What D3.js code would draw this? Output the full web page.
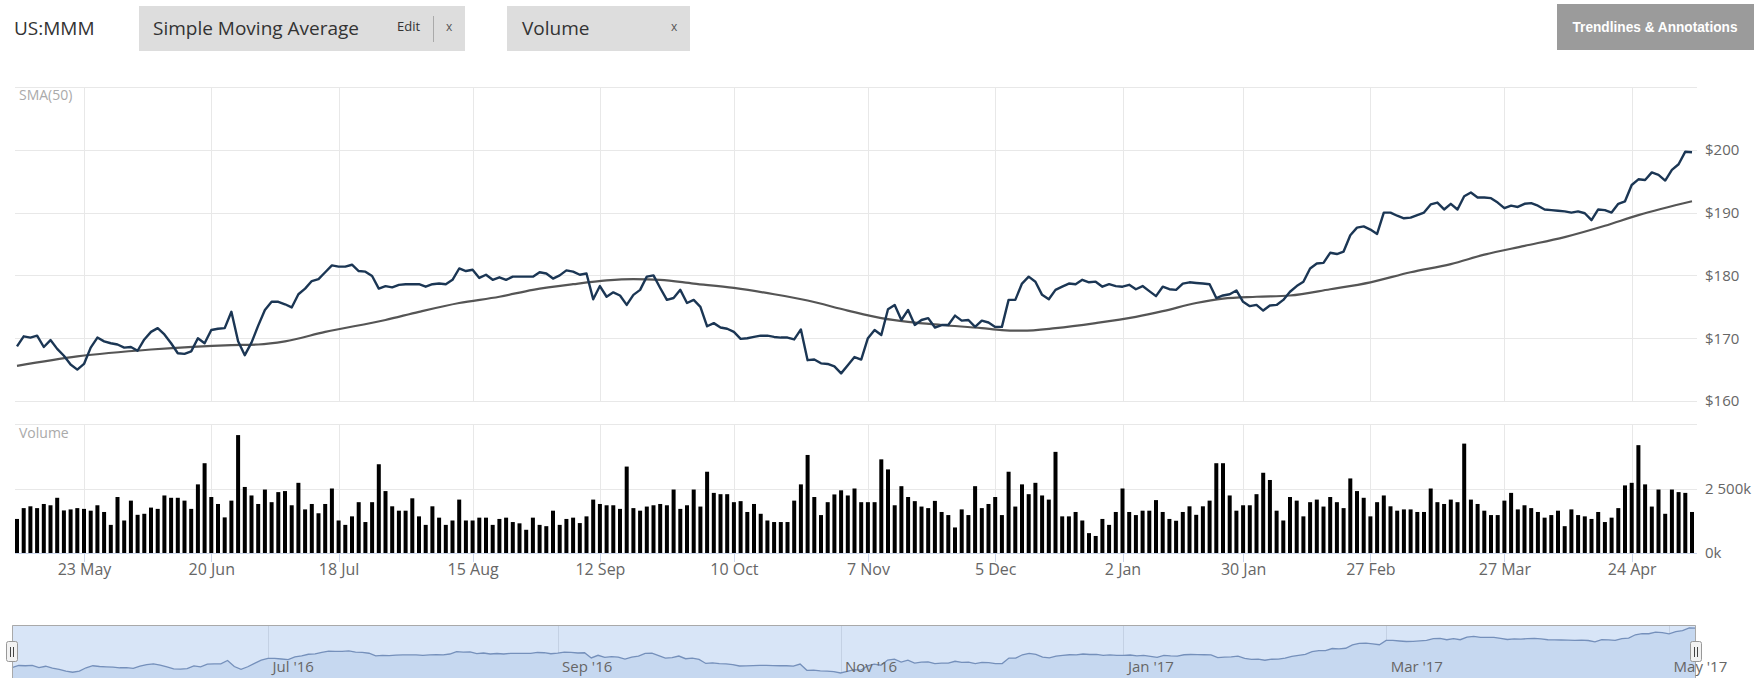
<!DOCTYPE html>
<html><head><meta charset="utf-8">
<script src="https://cdn.jsdelivr.net/npm/d3@7"></script>
<style>
html,body{margin:0;padding:0;background:#fff;}
svg{display:block;font-family:"Open Sans",sans-serif;}
.grid line{stroke:#e8e8e8;stroke-width:1;shape-rendering:crispEdges;}
.grid path{display:none;}
.ax path{display:none;}
.ax line{stroke:#ccd6eb;shape-rendering:crispEdges;}
.ax text{fill:#666;}
</style></head><body>
<svg id="chart" width="1762" height="678"></svg>
<script>
// ---------- DATA ----------
const symbol = "US:MMM";
const firstTradingDay = "2016-05-09";
const marketHolidays = ["2016-05-30","2016-07-04","2016-09-05","2016-11-24","2016-12-26","2017-01-02","2017-01-16","2017-02-20","2017-04-14"];

// daily close, US$ (one value per trading day)
const closePrice = [
168.7,170.3,170.1,170.4,168.6,169.7,168.3,167.2,165.8,165.0,
165.9,168.5,170.1,169.5,169.2,169.0,168.5,168.6,168.0,169.8,
171.0,171.6,170.6,169.2,167.6,167.5,167.9,170.0,169.2,171.3,
171.5,171.6,174.2,169.5,167.3,169.3,172.0,174.5,175.8,175.8,
175.4,174.9,177.0,177.9,179.1,179.4,180.5,181.6,181.4,181.4,
181.7,180.7,180.6,179.9,177.9,178.3,178.1,178.5,178.6,178.6,
178.6,178.2,178.6,178.7,178.6,179.3,181.1,180.7,180.9,179.6,
180.1,179.3,179.7,179.3,179.8,179.8,179.8,179.8,180.5,180.3,
179.5,180.0,180.8,180.6,180.1,180.3,176.2,178.3,176.6,177.3,
176.8,175.3,176.9,177.7,179.8,180.0,178.0,176.1,176.4,177.7,
175.6,176.1,175.0,171.9,172.4,171.7,171.5,171.0,169.9,170.0,
170.2,170.4,170.4,170.2,170.1,170.1,169.8,171.4,166.5,166.6,
166.0,165.9,165.5,164.4,165.7,167.0,166.6,170.0,171.3,170.5,
174.6,175.3,172.9,174.5,172.1,172.9,173.2,171.7,172.1,172.1,
173.6,172.8,172.9,171.8,172.8,172.5,171.8,171.8,176.1,176.1,
178.7,179.8,179.0,176.9,176.2,177.7,178.2,178.7,178.6,179.3,
178.9,179.0,178.2,178.6,178.3,178.2,178.5,177.8,178.3,177.5,
176.7,178.2,177.8,177.7,178.7,178.9,178.8,178.7,178.6,176.4,
176.8,177.0,177.6,175.8,175.1,175.3,174.4,175.2,175.3,176.1,
177.4,178.3,179.0,181.1,181.9,182.0,183.6,183.4,183.8,186.4,
187.6,187.8,187.3,186.6,190.0,190.0,189.5,189.1,189.2,189.6,
190.0,191.3,191.6,190.5,191.4,190.5,192.6,193.2,192.4,192.4,
192.3,191.6,190.7,191.1,190.9,191.4,191.5,191.1,190.5,190.4,
190.3,190.2,190.0,190.2,189.9,188.8,190.5,190.4,190.0,191.4,
191.8,194.4,195.3,195.2,196.4,196.0,195.1,196.8,197.7,199.7,199.6];

// daily volume, millions of shares
const volumeMillions = [
1.32,1.74,1.81,1.74,1.90,1.85,2.14,1.65,1.69,1.74,
1.71,1.64,1.85,1.59,1.09,2.17,1.26,2.03,1.48,1.52,
1.76,1.71,2.23,2.14,2.14,2.03,1.71,2.66,3.48,2.17,
1.90,1.38,2.03,4.57,2.56,2.23,1.90,2.46,1.97,2.36,
2.40,1.85,2.72,1.69,1.90,1.54,1.90,2.50,1.26,1.09,
1.42,1.97,1.20,1.97,3.44,2.40,1.81,1.64,1.64,2.12,
1.42,1.09,1.81,1.37,1.09,1.26,2.07,1.26,1.26,1.37,
1.37,1.09,1.32,1.37,1.20,1.15,0.90,1.37,1.09,1.04,
1.64,1.09,1.32,1.37,1.16,1.42,2.07,1.90,1.85,1.85,
1.71,3.35,1.74,1.64,1.80,1.85,1.90,1.85,2.46,1.71,
1.85,2.46,1.80,3.15,2.33,2.28,2.28,1.97,2.01,1.59,
1.90,1.52,1.26,1.20,1.20,1.20,2.03,2.66,3.80,2.17,
1.47,1.97,2.27,2.43,2.23,2.50,1.97,1.97,1.97,3.63,
3.24,1.85,2.59,2.17,2.01,1.80,1.74,2.02,1.59,1.47,
0.99,1.69,1.47,2.59,1.74,1.90,2.17,1.47,3.15,1.80,
2.66,2.28,2.72,2.23,2.07,3.92,1.42,1.42,1.59,1.26,
0.77,0.66,1.32,1.09,1.59,2.50,1.59,1.47,1.64,1.64,
2.05,1.59,1.32,1.25,1.59,1.81,1.48,1.81,2.03,3.48,
3.48,2.23,1.64,1.85,1.85,2.28,3.11,2.83,1.64,1.26,
2.17,2.03,1.42,1.97,2.07,1.80,2.17,1.97,1.74,2.89,
2.40,2.14,1.42,1.97,2.23,1.81,1.64,1.69,1.69,1.59,
1.59,2.50,1.97,1.90,2.07,1.97,4.24,2.07,1.90,1.64,
1.47,1.47,2.03,2.33,1.69,1.85,1.74,1.59,1.37,1.47,
1.64,1.04,1.69,1.47,1.42,1.32,1.59,1.20,1.37,1.74,
2.62,2.72,4.18,2.66,1.80,2.46,1.52,2.46,2.36,2.33,1.59];

// SMA(50): trading-day number and value
const smaDay   = [0,9,20,32,36,40,46,55,60,66,72,77,83,88,92,96,101,107,113,118,124,129,133,138,144,147,150,155,161,167,171,176,180,185,190,196,202,208,214,219,225,231,237,242,250];
const smaValue = [165.6,167.1,168.2,168.9,169.0,169.5,171.0,172.9,174.2,175.6,176.6,177.7,178.6,179.2,179.4,179.3,178.7,178.0,177.0,176.0,174.4,173.2,172.6,172.1,171.6,171.3,171.2,171.6,172.4,173.4,174.3,175.6,176.3,176.6,176.8,177.8,178.9,180.5,181.8,183.3,184.7,186.1,187.9,189.6,191.8];

const priceGridValues = [160,170,180,190,200,210];
const priceTickValues = [160,170,180,190,200];
const volumeGridValues = [0,2.5,5];
const volumeTickValues = [0,2.5];
const weekTickDates  = ["2016-05-23","2016-06-20","2016-07-18","2016-08-15","2016-09-12","2016-10-10","2016-11-07","2016-12-05","2017-01-02","2017-01-30","2017-02-27","2017-03-27","2017-04-24"];
const weekTickLabels = ["23 May","20 Jun","18 Jul","15 Aug","12 Sep","10 Oct","7 Nov","5 Dec","2 Jan","30 Jan","27 Feb","27 Mar","24 Apr"];
const navTickDates  = ["2016-07-01","2016-09-01","2016-11-01","2017-01-01","2017-03-01","2017-05-01"];
const navTickLabels = ["Jul '16","Sep '16","Nov '16","Jan '17","Mar '17","May '17"];

// ---------- TRADING CALENDAR (ordinal axis) ----------
const tradingDays = [];
{
  let t = Date.parse(firstTradingDay + "T00:00:00Z");
  while (tradingDays.length < closePrice.length) {
    const d = new Date(t), s = d.toISOString().slice(0,10), w = d.getUTCDay();
    if (w !== 0 && w !== 6 && !marketHolidays.includes(s)) tradingDays.push(s);
    t += 86400000;
  }
}
const dayIndex = s => tradingDays.findIndex(d => d >= s);
const weekTickIdx = weekTickDates.map(dayIndex);
const navTickIdx = navTickDates.map(dayIndex);
const N = closePrice.length;

// ---------- SCALES ----------
const svg = d3.select("#chart");
const x = d3.scaleLinear().domain([0, N-1]).range([17, 1692]);
const yPrice = d3.scaleLinear().domain([160, 210]).range([401, 87]);
const yVol = d3.scaleLinear().domain([0, 5]).range([553, 424]);
const xNav = d3.scaleLinear().domain([0, N-1]).range([12, 1696]);
const yNav = d3.scaleLinear().domain(d3.extent(closePrice)).range([673, 628]);

// ---------- HEADER ----------
svg.append("text").attr("x",14).attr("y",35).attr("font-size",19).attr("fill","#333").text(symbol);
svg.append("rect").attr("x",139).attr("y",6).attr("width",326).attr("height",45).attr("fill","#dddddd");
svg.append("text").attr("x",153).attr("y",35).attr("font-size",19).attr("fill","#333").text("Simple Moving Average");
svg.append("text").attr("x",397).attr("y",31).attr("font-size",13).attr("fill","#333").text("Edit");
svg.append("line").attr("x1",433.5).attr("x2",433.5).attr("y1",16).attr("y2",42).attr("stroke","#aaa");
svg.append("text").attr("x",446).attr("y",31).attr("font-size",12).attr("fill","#555").text("x");
svg.append("rect").attr("x",507).attr("y",6).attr("width",183).attr("height",45).attr("fill","#dddddd");
svg.append("text").attr("x",522).attr("y",35).attr("font-size",19).attr("fill","#333").text("Volume");
svg.append("text").attr("x",671).attr("y",31).attr("font-size",12).attr("fill","#555").text("x");
svg.append("rect").attr("x",1557).attr("y",4).attr("width",197).attr("height",46).attr("fill","#9b9b9b");
svg.append("text").attr("x",1655).attr("y",32).attr("text-anchor","middle").attr("font-size",15)
  .attr("font-weight","bold").attr("fill","#fff").attr("font-family","'Liberation Sans Narrow','Arial Narrow','Liberation Sans',sans-serif")
  .attr("textLength",165).attr("lengthAdjust","spacingAndGlyphs").text("Trendlines & Annotations");

// ---------- GRIDS ----------
svg.append("g").attr("class","grid").attr("transform","translate(15,0)")
  .call(d3.axisRight(yPrice).tickValues(priceGridValues).tickSize(1682).tickFormat(""));
svg.append("g").attr("class","grid").attr("transform","translate(15,0)")
  .call(d3.axisRight(yVol).tickValues(volumeGridValues).tickSize(1682).tickFormat(""));
svg.append("g").attr("class","grid").attr("transform","translate(0,87)")
  .call(d3.axisBottom(x).tickValues(weekTickIdx).tickSize(314).tickFormat(""));
svg.append("g").attr("class","grid").attr("transform","translate(0,424)")
  .call(d3.axisBottom(x).tickValues(weekTickIdx).tickSize(129).tickFormat(""));

// pane labels
svg.append("text").attr("x",19).attr("y",100).attr("font-size",14).attr("fill","#aaa").text("SMA(50)");
svg.append("text").attr("x",19).attr("y",438).attr("font-size",14).attr("fill","#aaa").text("Volume");

// ---------- PRICE + SMA ----------
svg.append("path").datum(smaDay.map((d,i)=>[d, smaValue[i]]))
  .attr("fill","none").attr("stroke","#555").attr("stroke-width",2.2)
  .attr("d", d3.line().x(d=>x(d[0])).y(d=>yPrice(d[1])).curve(d3.curveMonotoneX));
svg.append("path").datum(closePrice)
  .attr("fill","none").attr("stroke","#1b3654").attr("stroke-width",2.4).attr("stroke-linejoin","round")
  .attr("d", d3.line().x((d,i)=>x(i)).y(d=>yPrice(d)));

// ---------- VOLUME ----------
svg.append("g").selectAll("rect").data(volumeMillions).join("rect")
  .attr("x",(d,i)=>x(i)-2).attr("width",4)
  .attr("y",d=>yVol(d)).attr("height",d=>yVol(0)-yVol(d)).attr("fill","#000");

// ---------- AXES ----------
const ay = svg.append("g").attr("class","ax").attr("transform","translate(1697,0)")
  .call(d3.axisRight(yPrice).tickValues(priceTickValues).tickSize(0).tickPadding(8).tickFormat(d=>"$"+d));
ay.selectAll("text").attr("font-size",15).attr("font-family","'Open Sans',sans-serif");
const fmtK = d3.formatLocale({decimal:".",thousands:" ",grouping:[3],currency:["",""]}).format(",");
const av = svg.append("g").attr("class","ax").attr("transform","translate(1697,0)")
  .call(d3.axisRight(yVol).tickValues(volumeTickValues).tickSize(0).tickPadding(8).tickFormat(d=>fmtK(d*1000)+"k"));
av.selectAll("text").attr("font-size",15).attr("font-family","'Open Sans',sans-serif");
svg.append("line").attr("x1",15).attr("x2",1697).attr("y1",553.5).attr("y2",553.5).attr("stroke","#ccd6eb");
const ax = svg.append("g").attr("class","ax").attr("transform","translate(0,554)")
  .call(d3.axisBottom(x).tickValues(weekTickIdx).tickSize(8).tickPadding(2).tickFormat((d,i)=>weekTickLabels[i]));
ax.selectAll("text").attr("font-size",16).attr("font-family","'Open Sans',sans-serif");

// ---------- NAVIGATOR ----------
const nav = svg.append("g");
nav.append("rect").attr("x",12).attr("y",625).attr("width",1684).attr("height",60).attr("fill","#d8e5f7");
nav.append("g").attr("class","grid").attr("transform","translate(0,625)")
  .call(d3.axisBottom(xNav).tickValues(navTickIdx).tickSize(60).tickFormat(""))
  .selectAll("line").style("stroke","#c4d1e4");
nav.append("path").datum(closePrice).attr("fill","#c6d8f0")
  .attr("d", d3.area().x((d,i)=>xNav(i)).y0(690).y1(d=>yNav(d)));
nav.append("path").datum(closePrice).attr("fill","none").attr("stroke","#7590bb").attr("stroke-width",1.3)
  .attr("d", d3.line().x((d,i)=>xNav(i)).y(d=>yNav(d)));
nav.append("path").attr("d","M12.5,685V625.5H1695.5V685").attr("fill","none").attr("stroke","#a9a9a9");
const an = nav.append("g").attr("class","ax").attr("transform","translate(0,625)")
  .call(d3.axisBottom(xNav).tickValues(navTickIdx).tickSize(0).tickPadding(0).tickFormat((d,i)=>navTickLabels[i]));
an.selectAll("text").attr("font-size",15).attr("text-anchor","start").attr("dx",4).attr("dy",0).attr("y",47)
  .attr("fill","#666").attr("font-family","'Open Sans',sans-serif");
[xNav(0), xNav(N-1)].forEach(hx=>{
  const h = nav.append("g").attr("transform",`translate(${Math.round(hx)},652)`);
  h.append("rect").attr("x",-5.5).attr("y",-10.5).attr("width",11).attr("height",20).attr("rx",2)
    .attr("fill","#f2f2f2").attr("stroke","#999");
  h.append("line").attr("x1",-1.5).attr("x2",-1.5).attr("y1",-5).attr("y2",5).attr("stroke","#444");
  h.append("line").attr("x1",1.5).attr("x2",1.5).attr("y1",-5).attr("y2",5).attr("stroke","#444");
});
</script>
</body></html>
